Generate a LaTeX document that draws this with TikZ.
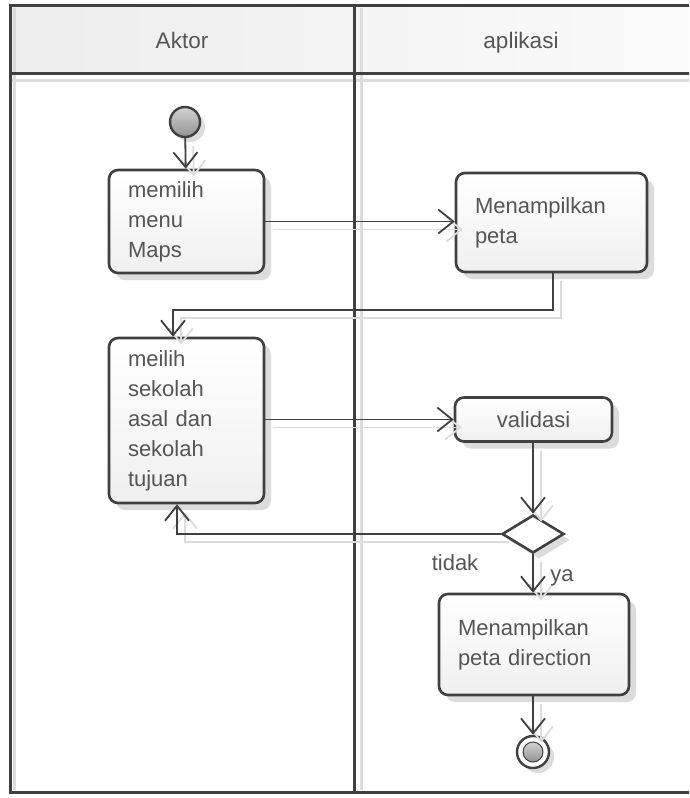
\documentclass[tikz,border=0pt]{standalone}
\usepackage{fontspec}
\setmainfont{Liberation Sans}
\usetikzlibrary{arrows.meta,shapes.geometric,shadows}
\definecolor{ln}{HTML}{404040}
\definecolor{tx}{HTML}{555555}
\definecolor{shd}{HTML}{DCDCDC}
\tikzset{
  actbox/.style={draw=ln, line width=2.6pt, rounded corners=9pt, top color=white, bottom color=gray!12,
    text=tx, font=\fontsize{22}{30}\selectfont, inner xsep=19pt, inner ysep=0pt, align=left,
    drop shadow={shadow xshift=7pt, shadow yshift=-7pt, fill=shd, opacity=1}},
  flow/.style={draw=ln, line width=1.8pt, -{Straight Barb[length=15pt,width=24pt,line width=1.8pt]}},
  flowshadow/.style={draw=shd, line width=1.8pt, -{Straight Barb[length=15pt,width=24pt,line width=1.8pt]}},
  frame/.style={draw=ln, line width=3pt},
  lightline/.style={draw=shd, line width=3pt},
  lbl/.style={text=tx, font=\fontsize{22}{26}\selectfont, inner sep=0pt, anchor=base},
  hdr/.style={text=tx, font=\fontsize{22.5}{26}\selectfont, inner sep=0pt, anchor=base}
}
\begin{document}
\begin{tikzpicture}[x=1pt,y=-1pt]
\useasboundingbox (0,0) rectangle (689,798);
\fill[white] (0,0) rectangle (689,798);
\begin{scope}
\clip (0,0) rectangle (689,798);
% header
\shade[left color=gray!14, right color=gray!4] (10,5) rectangle (700,73);
\draw[lightline] (14,8) -- (14,790);
\draw[lightline] (361,8) -- (361,790);
\draw[lightline] (12,80) -- (700,80);
\draw[frame] (10,5) rectangle (700,792);
\draw[frame] (10,73) -- (700,73);
\draw[frame] (354,5) -- (354,792);
\node[hdr] (h1) at (182,48) {Aktor};
\node[hdr] (h2) at (521,48) {aplikasi};
\end{scope}

% nodes
\node[circle, minimum size=30pt, inner sep=0pt, draw=ln, line width=2.4pt, top color=gray!35, bottom color=gray!85,
  drop shadow={shadow xshift=5pt, shadow yshift=-5pt, fill=shd, opacity=1}] (start) at (185,122) {};
\node[actbox, text width=117pt, minimum height=103pt] (m1) at (186.5,221.5) {memilih\\menu\\Maps};
\node[actbox, text width=153pt, minimum height=99pt] (peta) at (551.5,222.5) {Menampilkan\\peta};
\node[actbox, text width=117pt, minimum height=165pt] (m2) at (186.5,420.5) {meilih\\sekolah\\asal dan\\sekolah\\tujuan};
\node[actbox, text width=119pt, minimum height=44pt, align=center] (valid) at (533.5,419.5) {validasi};
\node[diamond, draw=ln, line width=2.6pt, fill=white, minimum width=62pt, minimum height=38pt, inner sep=0pt,
  drop shadow={shadow xshift=6pt, shadow yshift=-6pt, fill=shd, opacity=1}] (dia) at (533,534) {};
\node[actbox, text width=152pt, minimum height=101pt] (dir) at (534,644.5) {Menampilkan\\peta direction};
\node[circle, minimum size=32pt, inner sep=0pt, draw=ln, line width=2.4pt, fill=white,
  drop shadow={shadow xshift=5pt, shadow yshift=-5pt, fill=shd, opacity=1}] (end) at (533,752) {};
\node[circle, minimum size=20pt, inner sep=0pt, draw=ln, line width=1pt, top color=gray!35, bottom color=gray!85] (endin) at (end.center) {};

\coordinate (c1) at (553,310);
\coordinate (c2) at (173,310);
\coordinate (c3) at (177,534);

% connector shadows
\begin{scope}[transform canvas={xshift=8pt, yshift=-8pt}]
\draw[flowshadow] (start) -- (m1);
\draw[flowshadow] (m1.east) -- (m1.east -| peta.west);
\draw[flowshadow] (peta.south -| c1) -- (c1) -- (c2) -- (c2 |- m2.north);
\draw[flowshadow] (m2.east |- valid) -- (valid.west);
\draw[flowshadow] (valid.south -| dia) -- (dia.north);
\draw[flowshadow] (dia.west) -- (c3) -- (c3 |- m2.south);
\draw[flowshadow] (dia.south) -- (dia.south |- dir.north);
\draw[flowshadow] (dir.south -| end) -- (end.north);
\end{scope}

% connectors
\draw[flow] (start) -- (m1);
\draw[flow] (m1.east) -- (m1.east -| peta.west);
\draw[flow] (peta.south -| c1) -- (c1) -- (c2) -- (c2 |- m2.north);
\draw[flow] (m2.east |- valid) -- (valid.west);
\draw[flow] (valid.south -| dia) -- (dia.north);
\draw[flow] (dia.west) -- (c3) -- (c3 |- m2.south);
\draw[flow] (dia.south) -- (dia.south |- dir.north);
\draw[flow] (dir.south -| end) -- (end.north);

\node[lbl] (tidak) at (455,570) {tidak};
\node[lbl] (ya) at (562,581) {ya};
\end{tikzpicture}
\end{document}
